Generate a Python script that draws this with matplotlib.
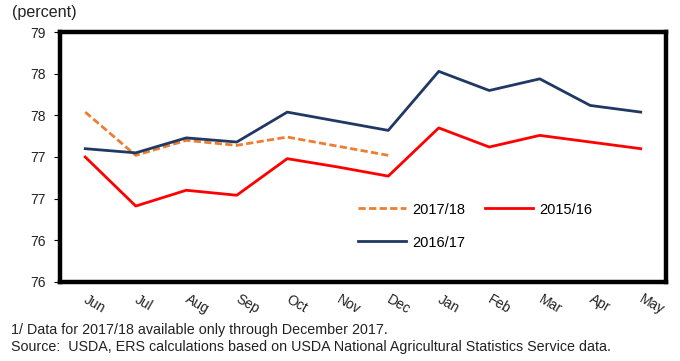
import matplotlib
matplotlib.use("Agg")
import matplotlib.pyplot as plt

plt.rcParams['font.family'] = ['Liberation Sans', 'DejaVu Sans']

months = ["Jun", "Jul", "Aug", "Sep", "Oct", "Nov", "Dec",
          "Jan", "Feb", "Mar", "Apr", "May"]
s2015_16 = [77.50, 76.91, 77.10, 77.04, 77.48, 77.38, 77.27,
            77.85, 77.62, 77.76, 77.68, 77.60]
s2016_17 = [77.60, 77.55, 77.73, 77.68, 78.04, 77.93, 77.82,
            78.53, 78.30, 78.44, 78.12, 78.04]
s2017_18 = [78.04, 77.52, 77.70, 77.64, 77.74, 77.63, 77.52]

ytick_values = [76, 76.5, 77, 77.5, 78, 78.5, 79]
ytick_labels = ["76", "76", "77", "77", "78", "78", "79"]

footnote = "1/ Data for 2017/18 available only through December 2017."
source = "Source:  USDA, ERS calculations based on USDA National Agricultural Statistics Service data."

fig = plt.figure(figsize=(6.8, 3.61), dpi=100)
ax = fig.add_axes([60/680, 1-281.7/361, 606/680, 249.4/361])

x = list(range(len(months)))
l17, = ax.plot(x[:len(s2017_18)], s2017_18, color="#ED7D31", lw=2.0,
               dashes=(2.6, 1.2), label="2017/18")
l15, = ax.plot(x, s2015_16, color="#FF0000", lw=2.0, label="2015/16")
l16, = ax.plot(x, s2016_17, color="#1F3864", lw=2.0, label="2016/17")

ax.set_xlim(-0.5, len(months) - 0.5)
ax.set_ylim(76, 79)
ax.set_yticks(ytick_values)
ax.set_yticklabels(ytick_labels, fontsize=10, color="#222222")
ax.set_xticks(x)
ax.set_xticklabels(months, fontsize=10, rotation=-30, ha="left",
                   va="center", rotation_mode="anchor", color="#222222")
ax.tick_params(axis="x", length=0, pad=12)
ax.tick_params(axis="y", length=4, width=0.8, pad=6, direction="out")

for sp in ax.spines.values():
    sp.set_linewidth(3.2)
    sp.set_color("black")

leg = ax.legend(handles=[l17, l16, l15], ncol=2, frameon=False,
                fontsize=10.5, handlelength=3.3, labelspacing=1.3,
                columnspacing=1.4, handletextpad=0.4,
                loc="upper left", bbox_to_anchor=(0.47, 0.37))

fig.text(12/680, 1-12/361, "(percent)", fontsize=11.6, va="center",
         ha="left", color="#222222")
fig.text(11/680, 1-330/361, footnote, fontsize=10.3, va="center",
         ha="left", color="#222222")
fig.text(11/680, 1-346.5/361, source, fontsize=10.3, va="center",
         ha="left", color="#222222")

fig.savefig("out.png", dpi=100)
